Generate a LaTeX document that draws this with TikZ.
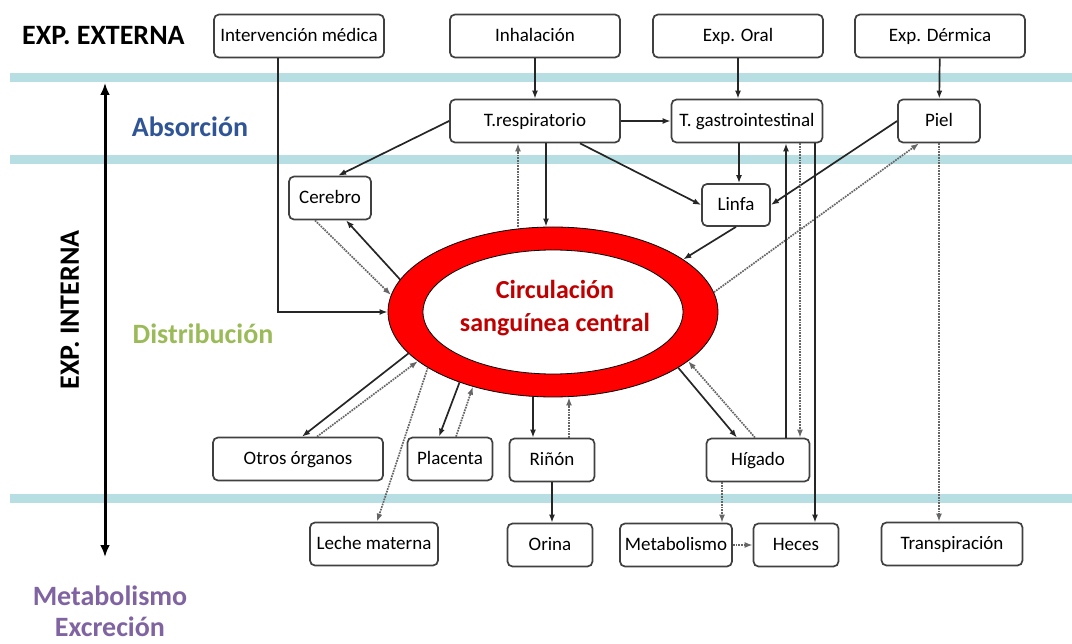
\documentclass[tikz,border=0pt]{standalone}
\usepackage{fontspec}
\setmainfont{Carlito}
\usepackage{tikz}
\usepackage{xcolor}
\usetikzlibrary{arrows.meta,shapes.geometric}
\definecolor{band-teal}{RGB}{183,222,226}
\definecolor{absorcion-blue}{RGB}{47,85,151}
\definecolor{distrib-green}{RGB}{155,187,89}
\definecolor{metab-purple}{RGB}{128,100,162}
\definecolor{ring-red}{RGB}{255,0,0}
\definecolor{blood-red}{RGB}{192,0,0}
\definecolor{box-gray}{RGB}{64,64,64}
\tikzset{
    organ-box/.style = {draw=box-gray, fill=white, line width=1.7pt, rectangle, rounded corners=5pt, minimum height=43pt, inner sep=2pt, text height=15pt, text depth=4pt, font=\fontsize{19}{22}\selectfont},
    phase-label/.style = {font=\fontsize{28}{31}\selectfont\bfseries, inner sep=0pt},
    flow-arrow/.style = {-{Latex[length=8pt,width=6pt]}, line width=1.7pt, black!85},
    trace-arrow/.style = {-{Latex[length=8pt,width=6pt]}, line width=1.7pt, densely dotted, black!60},
    teal-band/.style = {band-teal, line width=9pt},
}
\begin{document}
\begin{tikzpicture}[x=1pt, y=-1pt]
\useasboundingbox (0,0) rectangle (1072,644);
% bands between the stages
\draw[teal-band] (10,78) -- (1072,78);
\draw[teal-band] (10,160) -- (1072,160);
\draw[teal-band] (10,498) -- (1072,498);

% stage labels
\node[phase-label, anchor=west] (externa) at (22,36) {EXP. EXTERNA};
\node[phase-label, text=absorcion-blue] (absorcion) at (190,127) {Absorción};
\node[phase-label, text=distrib-green] (distribucion) at (203,334) {Distribución};
\node[phase-label, text=metab-purple, align=center] (excrecion) at (110,611) {Metabolismo\\Excreción};
\node[phase-label, rotate=90] (interna) at (70,310) {EXP. INTERNA};
\coordinate (axis-top) at (105,83);
\coordinate (axis-bottom) at (105,557);
\draw[{Latex[length=12pt,width=10pt]}-{Latex[length=12pt,width=10pt]}, line width=3pt] (axis-top) -- (axis-bottom);

% central circulation
\node[ellipse, draw=black, line width=0.8pt, fill=ring-red, minimum width=330pt, minimum height=170pt, inner sep=0pt] (blood) at (553,312) {};
\node[ellipse, draw=black, line width=0.8pt, fill=white, minimum width=260pt, minimum height=124pt, inner sep=0pt] (blood-core) at (553,312) {};
\node[phase-label, text=blood-red, align=center, font=\fontsize{26}{33}\selectfont\bfseries] (blood-text) at (555,308) {Circulación\\sanguínea central};

% external exposure
\node[organ-box, minimum width=170pt] (interv) at (299,36) {Intervención médica};
\node[organ-box, minimum width=170pt] (inhal) at (535,36) {Inhalación};
\node[organ-box, minimum width=170pt] (oral) at (738,36) {Exp. Oral};
\node[organ-box, minimum width=170pt] (dermica) at (940,36) {Exp. Dérmica};

% absorption
\node[organ-box, minimum width=170pt] (tresp) at (535,121) {T.respiratorio};
\node[organ-box, minimum width=151pt] (tgastro) at (747,121) {T. gastrointestinal};
\node[organ-box, minimum width=82pt] (piel) at (939,121) {Piel};

% distribution
\node[organ-box, minimum width=82pt] (cerebro) at (330,198) {Cerebro};
\node[organ-box, minimum width=68pt, minimum height=42pt] (linfa) at (736,205) {Linfa};
\node[organ-box, minimum width=170pt] (otros) at (298,459) {Otros órganos};
\node[organ-box, minimum width=85pt] (placenta) at (450,459) {Placenta};
\node[organ-box, minimum width=85pt] (rinon) at (552,460) {Riñón};
\node[organ-box, minimum width=103pt] (higado) at (758,460) {Hígado};

% metabolism and excretion
\node[organ-box, minimum width=128pt] (leche) at (374,544) {Leche materna};
\node[organ-box, minimum width=85pt] (orina) at (550,545) {Orina};
\node[organ-box, minimum width=112pt] (metab) at (676,545) {Metabolismo};
\node[organ-box, minimum width=85pt] (heces) at (796,545) {Heces};
\node[organ-box, minimum width=141pt] (transp) at (952,544) {Transpiración};

% entry routes
\draw[flow-arrow] (inhal) -- (tresp);
\draw[flow-arrow] (oral.south) -- (oral.south |- tgastro.north);
\draw[flow-arrow] (dermica) -- (piel);
\draw[flow-arrow] (tresp) -- (tgastro);
\draw[flow-arrow] (tresp.west) -- (cerebro.70);
\draw[flow-arrow] ([xshift=45pt]tresp.south) -- (linfa.west);
\draw[flow-arrow] ([xshift=11pt]tresp.south) -- ([xshift=11pt]tresp.south |- blood.north);
\draw[trace-arrow] ([xshift=-17pt]tresp.south |- blood.north) -- ([xshift=-17pt]tresp.south);
\draw[flow-arrow] ([xshift=-8pt]tgastro.south) -- ([xshift=-8pt]tgastro.south |- linfa.north);
\draw[flow-arrow] (piel.west) -- (linfa.east);
\draw[trace-arrow] (blood.7) -- ([xshift=-20pt]piel.south);
\draw[trace-arrow] (piel.south) -- (piel.south |- transp.north);
\draw[flow-arrow] (linfa.south) -- (blood.22);
\draw[flow-arrow] ([xshift=-21pt]interv.south) |- (blood.west);

% exchange with the organs
\draw[flow-arrow] (blood.168) -- ([xshift=16pt]cerebro.south);
\draw[trace-arrow] ([xshift=-15pt]cerebro.south) -- (blood.174);
\draw[flow-arrow] (blood.196) -- ([xshift=4pt]otros.north);
\draw[trace-arrow] ([xshift=19pt]otros.north) -- (blood.200);
\draw[trace-arrow] (blood.204) -- ([xshift=3pt]leche.north);
\draw[flow-arrow] (blood.217) -- ([xshift=-11pt]placenta.north);
\draw[trace-arrow] ([xshift=6pt]placenta.north) -- (blood.223);
\draw[flow-arrow] ([xshift=-19pt]rinon.north |- blood.south) -- ([xshift=-19pt]rinon.north);
\draw[trace-arrow] ([xshift=17pt]rinon.north) -- ([xshift=17pt]rinon.north |- blood.south);
\draw[flow-arrow] (rinon.south) -- (rinon.south |- orina.north);
\draw[flow-arrow] (blood.336) -- ([xshift=-21pt]higado.north);
\draw[trace-arrow] ([xshift=-3pt]higado.north) -- (blood.340);

% liver and gut
\draw[flow-arrow] ([xshift=28pt]higado.north) -- ([xshift=28pt]higado.north |- tgastro.south);
\draw[trace-arrow] ([xshift=42pt]higado.north |- tgastro.south) -- ([xshift=42pt]higado.north);
\draw[flow-arrow] ([xshift=68pt]tgastro.south) -- ([xshift=68pt]tgastro.south |- heces.north);
\draw[trace-arrow] ([xshift=-36pt]higado.south) -- ([xshift=-36pt]higado.south |- metab.north);
\draw[trace-arrow] (metab) -- (heces);
\end{tikzpicture}
\end{document}
